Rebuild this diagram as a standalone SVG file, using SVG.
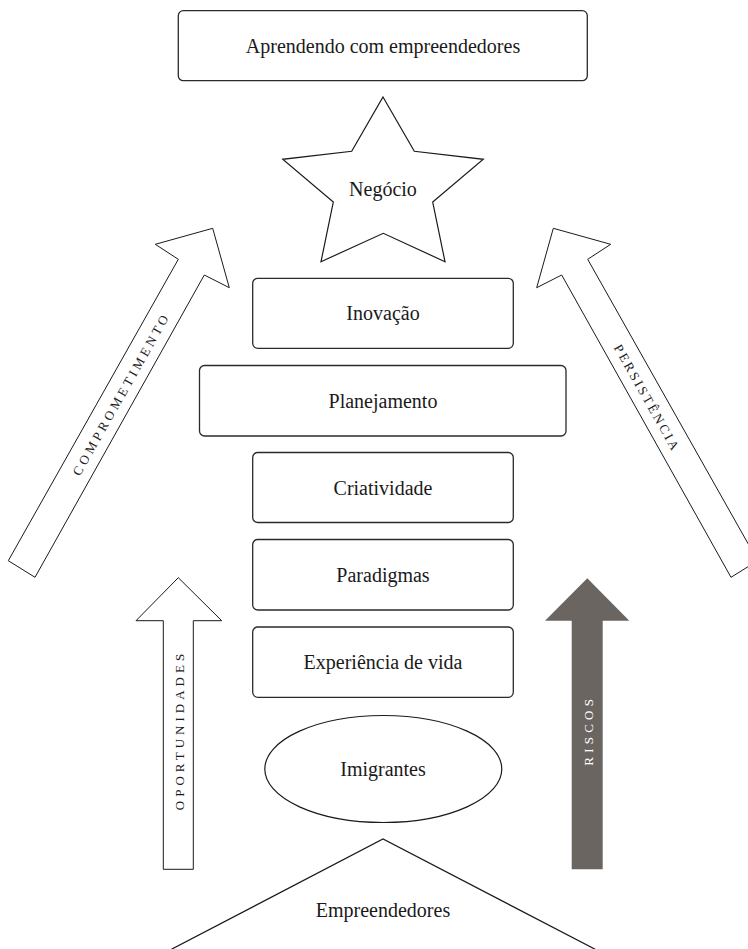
<svg xmlns="http://www.w3.org/2000/svg" width="748" height="949" viewBox="0 0 748 949">
<style>
.box{fill:#fff;stroke:#2a2a2a;stroke-width:1.3}
.shape{fill:#fff;stroke:#1a1a1a;stroke-width:1.2}
.arr{fill:#fff;stroke:#1a1a1a;stroke-width:1}
.lbl{font-family:"Liberation Serif","Times New Roman",serif;font-size:20px;fill:#1a1a1a;text-anchor:middle;dominant-baseline:central}
.cap{font-family:"Liberation Serif","Times New Roman",serif;font-size:13px;fill:#1a1a1a;text-anchor:middle;dominant-baseline:central}
</style>
<rect width="748" height="949" fill="#fff"/>
<g id="connectors">
  <g id="arrow-comprometimento">
    <polygon class="arr" points="8.3,560.7 178.3,259.3 155.3,244.3 212.7,228.3 229.3,287.7 204.3,275 35,577.3"/>
    <text class="cap" transform="translate(121.3,393.8) rotate(-60.6)" style="letter-spacing:3.5px">COMPROMETIMENTO</text>
  </g>
  <g id="arrow-persistencia">
    <polygon class="arr" points="757.7,560.7 587.7,259.3 610.7,244.3 553.3,228.3 536.7,287.7 561.7,275 731,577.3"/>
    <text class="cap" transform="translate(647.3,398.3) rotate(60.6)" style="letter-spacing:2.6px">PERSISTÊNCIA</text>
  </g>
  <g id="arrow-oportunidades">
    <polygon class="arr" points="163.3,869.3 163.3,620.7 136,620.7 178.3,577.7 221.7,620.7 193.3,620.7 193.3,869.3"/>
    <text class="cap" transform="translate(179.5,730) rotate(-90)" style="letter-spacing:4px">OPORTUNIDADES</text>
  </g>
  <g id="arrow-riscos">
    <polygon points="571.7,869.3 571.7,620.7 545,620.7 587.3,578.3 629.3,620.7 602.7,620.7 602.7,869.3" fill="#6a6561"/>
    <text class="cap" transform="translate(588.5,730.3) rotate(-90)" style="letter-spacing:4.2px;fill:#ffffff">RISCOS</text>
  </g>
</g>
<g id="title">
  <rect class="box" x="178.3" y="10.7" width="409" height="70" rx="5"/>
  <text class="lbl" x="383" y="45.7">Aprendendo com empreendedores</text>
</g>
<g id="negocio">
  <polygon class="shape" points="383,97 414.3,151.3 483.3,159.3 432.7,202 445,261.7 383.3,233.3 321,261.7 333.3,202 282.7,159.3 351.7,151.3"/>
  <text class="lbl" x="383" y="188.5">Negócio</text>
</g>
<g id="inovacao">
  <rect class="box" x="252.7" y="278.3" width="260.6" height="70" rx="5"/>
  <text class="lbl" x="383" y="313.3">Inovação</text>
</g>
<g id="planejamento">
  <rect class="box" x="199.5" y="365.5" width="366.5" height="70.5" rx="5"/>
  <text class="lbl" x="383" y="400.7">Planejamento</text>
</g>
<g id="criatividade">
  <rect class="box" x="252.7" y="452.5" width="260.6" height="70" rx="5"/>
  <text class="lbl" x="383" y="487.5">Criatividade</text>
</g>
<g id="paradigmas">
  <rect class="box" x="252.7" y="539.5" width="260.6" height="70.5" rx="5"/>
  <text class="lbl" x="383" y="574.8">Paradigmas</text>
</g>
<g id="experiencia">
  <rect class="box" x="252.7" y="627" width="260.6" height="70.3" rx="5"/>
  <text class="lbl" x="383" y="662">Experiência de vida</text>
</g>
<g id="imigrantes">
  <ellipse class="shape" cx="383.3" cy="769" rx="118.5" ry="53.5"/>
  <text class="lbl" x="383" y="769">Imigrantes</text>
</g>
<g id="empreendedores">
  <path class="shape" d="M171.4,949.3 L383,839 L595.2,949.3" fill="none"/>
  <text class="lbl" x="383" y="910">Empreendedores</text>
</g>
</svg>
